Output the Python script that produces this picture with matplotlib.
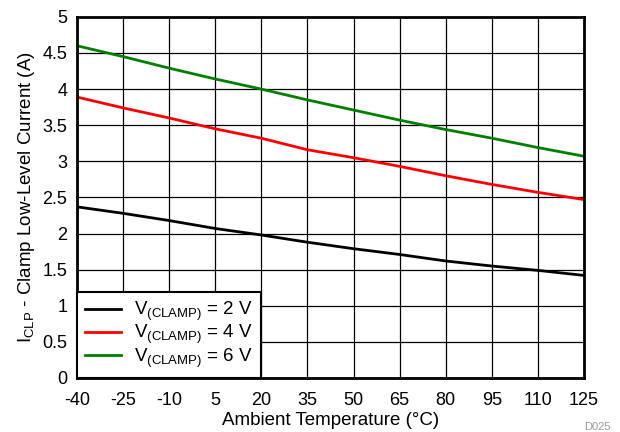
import matplotlib
matplotlib.use("Agg")
import matplotlib.pyplot as plt

plt.rcParams['font.family'] = ['Liberation Sans', 'DejaVu Sans']
plt.rcParams['mathtext.fontset'] = 'custom'
plt.rcParams['mathtext.rm'] = 'Liberation Sans'
plt.rcParams['mathtext.it'] = 'Liberation Sans'

temp = [-40, -25, -10, 5, 20, 35, 50, 65, 80, 95, 110, 125]
i_2v = [2.37, 2.28, 2.18, 2.07, 1.98, 1.88, 1.79, 1.71, 1.62, 1.55, 1.49, 1.42]
i_4v = [3.89, 3.74, 3.60, 3.45, 3.32, 3.16, 3.05, 2.93, 2.80, 2.68, 2.57, 2.47]
i_6v = [4.60, 4.45, 4.29, 4.14, 4.00, 3.85, 3.71, 3.57, 3.44, 3.32, 3.19, 3.07]
labels = [r'V$_{\mathrm{(CLAMP)}}$ = 2 V', r'V$_{\mathrm{(CLAMP)}}$ = 4 V', r'V$_{\mathrm{(CLAMP)}}$ = 6 V']
xticks = list(range(-40, 126, 15))
yticks = [0, 0.5, 1, 1.5, 2, 2.5, 3, 3.5, 4, 4.5, 5]

fig = plt.figure(figsize=(6.2, 4.32), dpi=100)
ax = fig.add_axes([0.124, 0.125, 0.818, 0.836])

ax.plot(temp, i_2v, color='black', lw=2, label=labels[0])
ax.plot(temp, i_4v, color='#ff0000', lw=2, label=labels[1])
ax.plot(temp, i_6v, color='#008000', lw=2, label=labels[2])

ax.set_xlim(-40, 125)
ax.set_ylim(0, 5)
ax.set_xticks(xticks)
ax.set_xticklabels([str(t) for t in xticks])
ax.set_yticks(yticks)
ax.set_yticklabels(['%g' % v for v in yticks])
ax.tick_params(length=0, labelsize=13, pad=7)
ax.tick_params(axis='x', pad=10)
ax.grid(True, color='black', lw=0.9)
for s in ax.spines.values():
    s.set_linewidth(2)

ax.set_xlabel('Ambient Temperature (°C)', fontsize=13.5, labelpad=2)
ax.set_ylabel(r'I$_{\mathrm{CLP}}$ - Clamp Low-Level Current (A)', fontsize=13.5, labelpad=4)

leg = ax.legend(loc='lower left', fontsize=13.5, frameon=True, fancybox=False,
                borderaxespad=0, handlelength=1.9, handletextpad=0.7,
                labelspacing=0.0, borderpad=0.45)
leg.get_frame().set_edgecolor('black')
leg.get_frame().set_linewidth(1.5)
leg.get_frame().set_alpha(1)

fig.text(0.985, 0.0, 'D025', fontsize=8, color='#999999', ha='right', va='bottom')

fig.savefig('out.png', dpi=100)
